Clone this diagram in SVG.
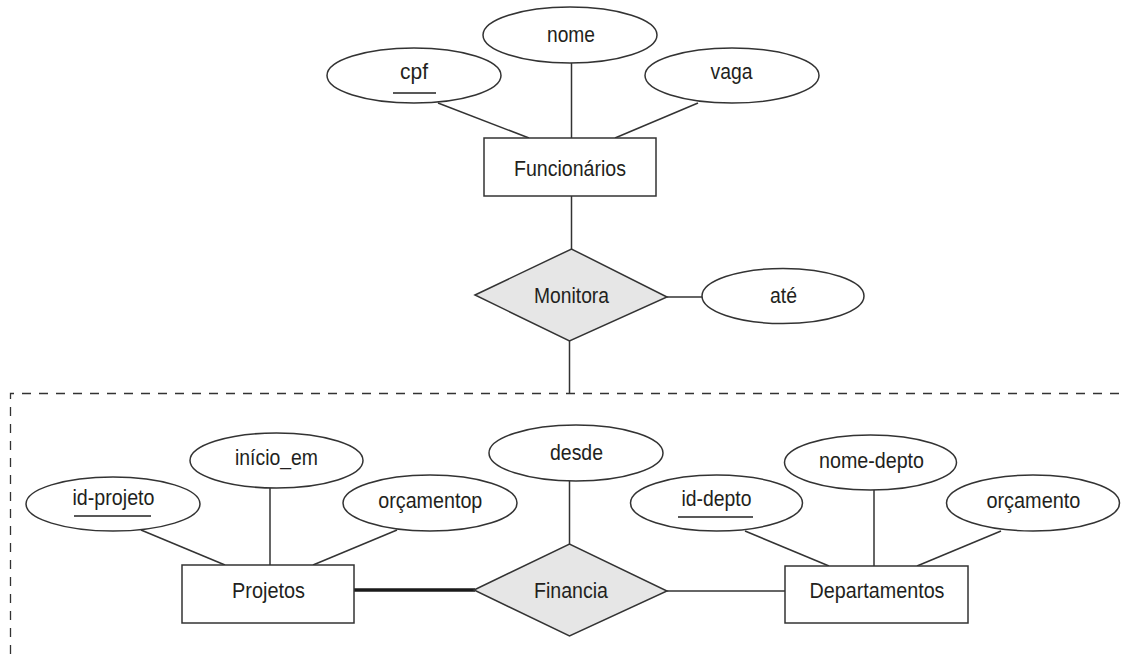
<svg xmlns="http://www.w3.org/2000/svg" width="1124" height="654" viewBox="0 0 1124 654">
<style>
.bg{fill:#ffffff}
.attr{fill:#ffffff;stroke:#333333;stroke-width:1.5}
.ent{fill:#ffffff;stroke:#333333;stroke-width:1.5}
.rel{fill:#e6e6e6;stroke:#333333;stroke-width:1.5}
.ln{stroke:#333333;stroke-width:1.5;fill:none}
.thick{stroke:#1a1a1a;stroke-width:3.5;fill:none}
.dash{stroke:#333333;stroke-width:1.3;fill:none;stroke-dasharray:9 8}
.ul{stroke:#222222;stroke-width:1.5}
text{font-family:"Liberation Sans",Arial,sans-serif;font-size:22px;fill:#231f20;text-anchor:middle}
</style>
<rect class="bg" x="0" y="0" width="1124" height="654"/>
<path id="aggregation" class="dash" d="M10.5,654 V393.5 H1124"/>
<g id="connectors">
<line class="ln" x1="438" y1="103" x2="529" y2="138"/>
<line class="ln" x1="571.5" y1="63" x2="571.5" y2="138"/>
<line class="ln" x1="698" y1="103" x2="615" y2="138"/>
<line class="ln" x1="571.5" y1="196" x2="571.5" y2="249"/>
<line class="ln" x1="667" y1="297" x2="702" y2="297"/>
<line class="ln" x1="569.5" y1="341" x2="569.5" y2="393.5"/>
<line class="ln" x1="141" y1="530" x2="225" y2="565"/>
<line class="ln" x1="270" y1="488" x2="270" y2="565"/>
<line class="ln" x1="397" y1="530" x2="313" y2="565"/>
<line class="ln" x1="569.5" y1="481" x2="569.5" y2="544"/>
<line class="ln" x1="745" y1="531" x2="829" y2="566"/>
<line class="ln" x1="874" y1="490" x2="874" y2="566"/>
<line class="ln" x1="1001" y1="531" x2="917" y2="566"/>
<line class="thick" x1="354" y1="590" x2="475" y2="590"/>
<line class="ln" x1="667" y1="591" x2="785" y2="591"/>
</g>
<g id="cpf">
<ellipse class="attr" cx="414" cy="75.5" rx="87" ry="27.5"/>
<text x="414" y="79" textLength="28" lengthAdjust="spacingAndGlyphs">cpf</text>
<line class="ul" x1="393" y1="93" x2="436" y2="93"/>
</g>
<g id="nome">
<ellipse class="attr" cx="570" cy="35" rx="87" ry="28"/>
<text x="571" y="42" textLength="48" lengthAdjust="spacingAndGlyphs">nome</text>
</g>
<g id="vaga">
<ellipse class="attr" cx="732" cy="75.5" rx="87" ry="27.5"/>
<text x="731.5" y="79" textLength="42" lengthAdjust="spacingAndGlyphs">vaga</text>
</g>
<g id="funcionarios">
<rect class="ent" x="484" y="138" width="172" height="58"/>
<text x="570" y="176" textLength="112" lengthAdjust="spacingAndGlyphs">Funcionários</text>
</g>
<g id="monitora">
<polygon class="rel" points="475,295 571.5,249 667,297 569.5,341"/>
<text x="571.5" y="303" textLength="75" lengthAdjust="spacingAndGlyphs">Monitora</text>
</g>
<g id="ate">
<ellipse class="attr" cx="783" cy="296" rx="81" ry="27.5"/>
<text x="783.5" y="303" textLength="27" lengthAdjust="spacingAndGlyphs">até</text>
</g>
<g id="id-projeto">
<ellipse class="attr" cx="113" cy="504" rx="87" ry="27"/>
<text x="113.5" y="505" textLength="82" lengthAdjust="spacingAndGlyphs">id-projeto</text>
<line class="ul" x1="74" y1="516" x2="151" y2="516"/>
</g>
<g id="inicio_em">
<ellipse class="attr" cx="276.5" cy="460.5" rx="86.5" ry="27.5"/>
<text x="276.5" y="465" textLength="83" lengthAdjust="spacingAndGlyphs">início_em</text>
</g>
<g id="orcamentop">
<ellipse class="attr" cx="430" cy="503" rx="87" ry="28"/>
<text x="430.3" y="508" textLength="104" lengthAdjust="spacingAndGlyphs">orçamentop</text>
</g>
<g id="projetos">
<rect class="ent" x="182" y="565" width="172" height="58"/>
<text x="268.5" y="598" textLength="73" lengthAdjust="spacingAndGlyphs">Projetos</text>
</g>
<g id="desde">
<ellipse class="attr" cx="576" cy="453" rx="87" ry="28"/>
<text x="576.5" y="460" textLength="53" lengthAdjust="spacingAndGlyphs">desde</text>
</g>
<g id="financia">
<polygon class="rel" points="474,590 569.5,544 667,591 569.5,636"/>
<text x="571" y="598" textLength="74" lengthAdjust="spacingAndGlyphs">Financia</text>
</g>
<g id="id-depto">
<ellipse class="attr" cx="716.5" cy="503" rx="86" ry="28"/>
<text x="716.5" y="506" textLength="70" lengthAdjust="spacingAndGlyphs">id-depto</text>
<line class="ul" x1="678" y1="517" x2="753" y2="517"/>
</g>
<g id="nome-depto">
<ellipse class="attr" cx="870.5" cy="462.5" rx="86" ry="27.5"/>
<text x="871.5" y="468" textLength="105" lengthAdjust="spacingAndGlyphs">nome-depto</text>
</g>
<g id="orcamento">
<ellipse class="attr" cx="1033" cy="503" rx="86.5" ry="28"/>
<text x="1033.4" y="508" textLength="94" lengthAdjust="spacingAndGlyphs">orçamento</text>
</g>
<g id="departamentos">
<rect class="ent" x="785" y="566" width="183" height="57"/>
<text x="877" y="598" textLength="135" lengthAdjust="spacingAndGlyphs">Departamentos</text>
</g>
</svg>
